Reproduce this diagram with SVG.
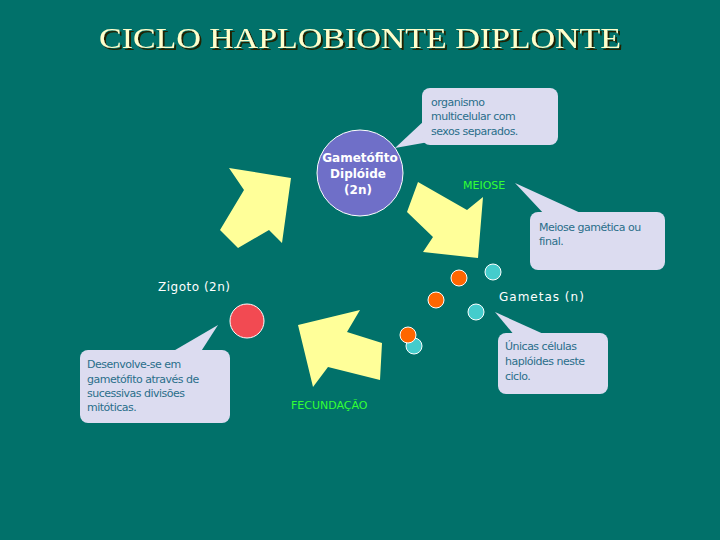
<svg xmlns="http://www.w3.org/2000/svg" width="720" height="540" viewBox="0 0 720 540">
<defs><filter id="sh" x="-5%" y="-30%" width="110%" height="160%"><feDropShadow dx="2" dy="2" stdDeviation="0.5" flood-color="#222200"/></filter></defs>
<style>
.arr{fill:#ffff99}
.co{fill:#dcdcf0}
.ct{font-family:"DejaVu Sans",sans-serif;font-size:11px;fill:#2a6e8a;letter-spacing:-0.5px}
.wt{font-family:"DejaVu Sans",sans-serif;font-size:12px;fill:#ffffff}
.gt{font-family:"DejaVu Sans",sans-serif;font-size:11px;fill:#33ff33}
.g{stroke:#ffffff;stroke-width:1}
</style>
<rect width="720" height="540" fill="#01716a"/>
<text x="360" y="48" text-anchor="middle" font-family="Liberation Serif,serif" font-size="30" fill="#ffffcc" filter="url(#sh)" textLength="522" lengthAdjust="spacingAndGlyphs">CICLO HAPLOBIONTE DIPLONTE</text>
<g id="connectors">
<polygon class="arr" points="229,168 291,178 282,243 269,230 238,248 220,230 244,190"/>
<polygon class="arr" points="418,182 467,210 483,197 478,258 423,252 433,237 407,212"/>
<polygon class="arr" points="298,325 360,310 347,332 382,343 380,380 328,367 313,387"/>
</g>
<g id="gametofito">
<circle class="g" cx="360" cy="173" r="43" fill="#6f6fc8"/>
<text class="wt" text-anchor="middle" font-weight="bold" font-size="13"><tspan x="360" y="162">Gametófito</tspan><tspan x="358" y="178">Diplóide</tspan><tspan x="358" y="194">(2n)</tspan></text>
</g>
<g id="zigoto">
<text class="wt" x="158" y="291" letter-spacing="0.5">Zigoto (2n)</text>
<circle class="g" cx="247" cy="321" r="17" fill="#f24a52"/>
</g>
<g id="gametas">
<text class="wt" x="499" y="301" letter-spacing="1">Gametas (n)</text>
<circle class="g" cx="459" cy="278" r="8" fill="#ff6600"/>
<circle class="g" cx="493" cy="272" r="8" fill="#44cccc"/>
<circle class="g" cx="436" cy="300" r="8" fill="#ff6600"/>
<circle class="g" cx="476" cy="312" r="8" fill="#44cccc"/>
<circle class="g" cx="414" cy="346" r="8" fill="#44cccc"/>
<circle class="g" cx="408" cy="335" r="8" fill="#ff6600"/>
</g>
<g id="meiose"><text class="gt" x="463" y="189">MEIOSE</text></g>
<g id="fecundacao"><text class="gt" x="291" y="409">FECUNDAÇÃO</text></g>
<g id="callout1">
<polygon class="co" points="395,148 425,120 440,140"/>
<rect class="co" x="422" y="88" width="136" height="57" rx="8"/>
<text class="ct"><tspan x="431" y="106">organismo</tspan><tspan x="431" y="120">multicelular com</tspan><tspan x="431" y="135">sexos separados.</tspan></text>
</g>
<g id="callout2">
<polygon class="co" points="515,183 545,215 585,215"/>
<rect class="co" x="530" y="212" width="135" height="58" rx="8"/>
<text class="ct"><tspan x="539" y="231">Meiose gamética ou</tspan><tspan x="539" y="245">final.</tspan></text>
</g>
<g id="callout3">
<polygon class="co" points="495,312 515,336 548,336"/>
<rect class="co" x="498" y="333" width="110" height="61" rx="8"/>
<text class="ct"><tspan x="505" y="350">Únicas células</tspan><tspan x="505" y="365">haplóides neste</tspan><tspan x="505" y="380">ciclo.</tspan></text>
</g>
<g id="callout4">
<polygon class="co" points="218,325 170,353 200,353"/>
<rect class="co" x="80" y="350" width="150" height="73" rx="8"/>
<text class="ct"><tspan x="87" y="368">Desenvolve-se em</tspan><tspan x="87" y="383">gametófito através de</tspan><tspan x="87" y="397">sucessivas divisões</tspan><tspan x="87" y="411">mitóticas.</tspan></text>
</g>
</svg>
